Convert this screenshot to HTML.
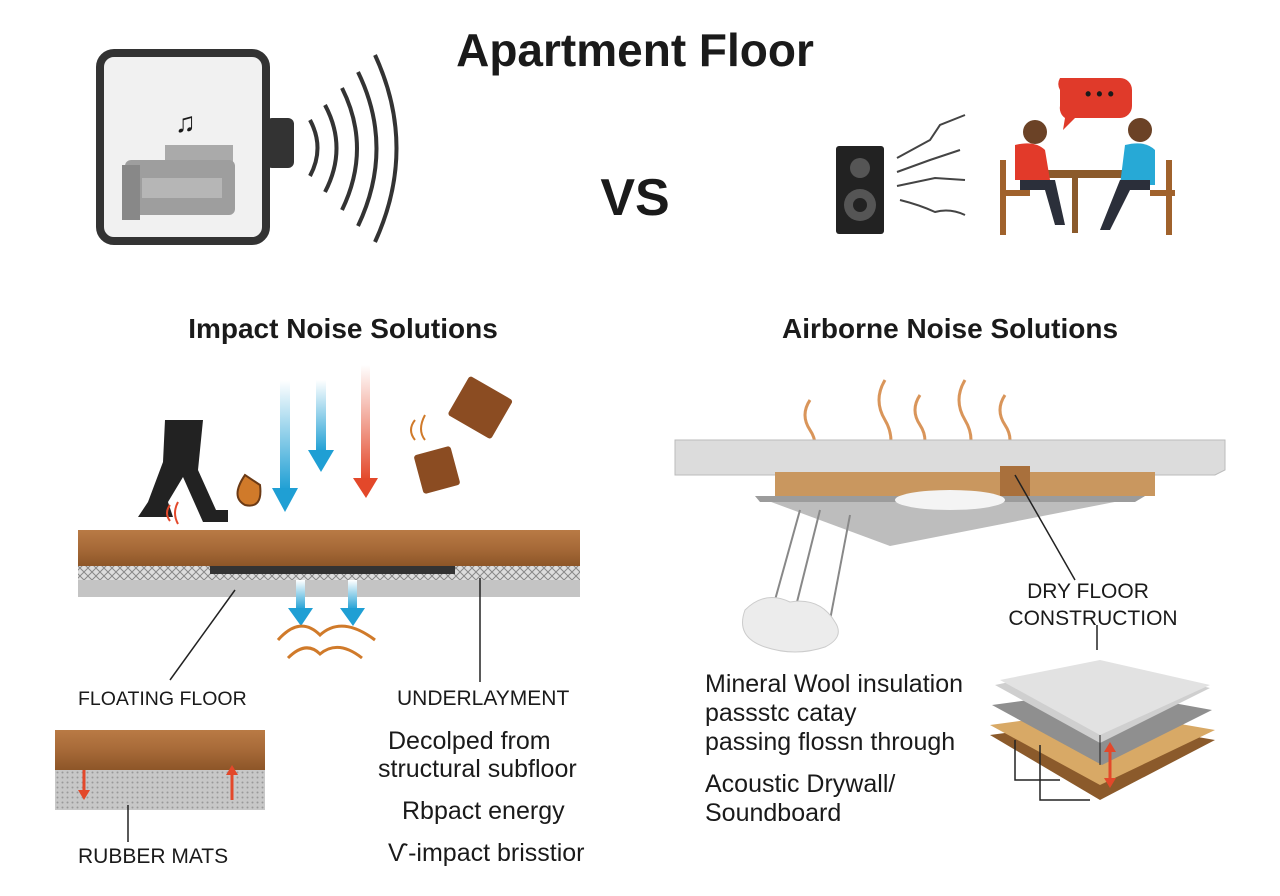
<!DOCTYPE html>
<html><head><meta charset="utf-8"><style>
html,body{margin:0;padding:0;background:#fff;width:1280px;height:896px;overflow:hidden}
svg{display:block}
text{font-family:"Liberation Sans",sans-serif;fill:#1a1a1a}
</style></head><body>
<svg width="1280" height="896" viewBox="0 0 1280 896" xmlns="http://www.w3.org/2000/svg">
<defs>
<pattern id="hatch" width="8" height="8" patternUnits="userSpaceOnUse"><rect width="8" height="8" fill="#ddd"/><path d="M0 8L8 0M0 0L8 8" stroke="#888" stroke-width="1"/></pattern>
<pattern id="dots" width="5" height="5" patternUnits="userSpaceOnUse"><rect width="5" height="5" fill="#c8c8c8"/><circle cx="2.5" cy="2.5" r="1" fill="#999"/></pattern>
<linearGradient id="wood" x1="0" y1="0" x2="0" y2="1"><stop offset="0" stop-color="#b97a45"/><stop offset="0.5" stop-color="#a76a38"/><stop offset="1" stop-color="#8d5628"/></linearGradient>
<linearGradient id="blueA" x1="0" y1="0" x2="0" y2="1"><stop offset="0" stop-color="#fff"/><stop offset="1" stop-color="#1f9fd4"/></linearGradient>
<linearGradient id="redA" x1="0" y1="0" x2="0" y2="1"><stop offset="0" stop-color="#fff"/><stop offset="1" stop-color="#e3482a"/></linearGradient>
</defs>

<text x="635" y="66" font-size="46" font-weight="bold" text-anchor="middle">Apartment Floor</text>

<!-- device -->
<rect x="100" y="53" width="166" height="188" rx="14" fill="#f1f1f1" stroke="#333" stroke-width="8"/>
<rect x="266" y="118" width="28" height="50" rx="6" fill="#333"/>
<rect x="165" y="145" width="68" height="45" fill="#aaa"/>
<rect x="125" y="160" width="110" height="55" rx="6" fill="#9e9e9e"/>
<rect x="142" y="178" width="80" height="20" fill="#b6b6b6"/>
<rect x="122" y="165" width="18" height="55" fill="#888"/>
<text x="175" y="132" font-size="28">♫</text>
<g fill="none" stroke="#333" stroke-width="4">
<path d="M310 120 Q325 148 310 176"/><path d="M325 105 Q348 148 325 192"/><path d="M342 88 Q372 148 342 210"/><path d="M358 72 Q395 148 358 226"/><path d="M375 55 Q418 148 375 242"/>
</g>

<text x="635" y="215" font-size="52" font-weight="bold" text-anchor="middle" fill="#222">VS</text>

<!-- speaker -->
<rect x="836" y="146" width="48" height="88" rx="3" fill="#222"/>
<circle cx="860" cy="168" r="10" fill="#555"/><circle cx="860" cy="205" r="16" fill="#555"/><circle cx="860" cy="205" r="7" fill="#222"/>
<g fill="none" stroke="#444" stroke-width="2">
<path d="M897 158 L930 140 L940 125 L965 115"/><path d="M897 172 L930 160 L960 150"/><path d="M897 186 L935 178 L965 180"/><path d="M900 200 Q920 205 935 212 Q950 208 965 215"/>
</g>
<!-- people -->
<path d="M1060 78 h60 a12 12 0 0 1 12 12 v16 a12 12 0 0 1 -12 12 h-45 l-12 12 l2 -12 a12 12 0 0 1 -5 -12 v-16 a12 12 0 0 1 0 -12z" fill="#e03a2a"/>
<text x="1085" y="100" font-size="18" fill="#fff" font-weight="bold">• • •</text>
<rect x="1040" y="170" width="85" height="8" fill="#8b5a2b"/>
<rect x="1072" y="178" width="6" height="55" fill="#8b5a2b"/>
<circle cx="1035" cy="132" r="12" fill="#6b4226"/>
<path d="M1015 145 q20 -5 30 5 l5 30 h-35z" fill="#e23a2a"/>
<path d="M1020 180 h35 l10 45 h-10 l-10 -35 h-25z" fill="#2b2f3a"/>
<rect x="1000" y="190" width="30" height="6" fill="#a0622c"/><rect x="1000" y="160" width="6" height="75" fill="#a0622c"/>
<circle cx="1140" cy="130" r="12" fill="#6b4226"/>
<path d="M1125 145 q20 -5 30 5 l0 35 h-35z" fill="#27a9d6"/>
<path d="M1125 180 h25 v10 h-20 l-20 40 h-10 l20 -50z" fill="#2b2f3a"/>
<rect x="1150" y="190" width="25" height="6" fill="#a0622c"/><rect x="1166" y="160" width="6" height="75" fill="#a0622c"/>

<text x="343" y="338" font-size="28" font-weight="bold" text-anchor="middle">Impact Noise Solutions</text>
<text x="950" y="338" font-size="28" font-weight="bold" text-anchor="middle">Airborne Noise Solutions</text>

<!-- left illustration -->
<path d="M165 420 h38 l-5 50 l18 40 h12 v12 h-25 l-20 -45 l-15 25 l5 15 h-35 l10 -15 l15 -40z" fill="#222"/>
<path d="M245 475 q-15 22 0 30 q18 4 15 -20z" fill="#d07a2a" stroke="#6b3a15" stroke-width="2"/>
<rect x="280" y="380" width="10" height="110" fill="url(#blueA)"/><path d="M272 488 h26 l-13 24z" fill="#1f9fd4"/>
<rect x="316" y="380" width="10" height="72" fill="url(#blueA)"/><path d="M308 450 h26 l-13 22z" fill="#1f9fd4"/>
<rect x="361" y="365" width="9" height="115" fill="url(#redA)"/><path d="M353 478 h25 l-12 20z" fill="#e3482a"/>
<rect x="455" y="385" width="50" height="45" rx="3" fill="#8b4c22" transform="rotate(30 480 408)"/>
<rect x="418" y="450" width="38" height="40" rx="3" fill="#8b4c22" transform="rotate(-15 437 470)"/>
<path d="M415 420 q-8 10 0 20 M425 415 q-8 15 0 25" stroke="#d07a2a" stroke-width="2" fill="none"/>
<path d="M170 505 q-6 8 0 16 M178 502 q-6 11 0 22" stroke="#e3482a" stroke-width="2" fill="none"/>

<rect x="78" y="530" width="502" height="36" fill="url(#wood)"/>
<rect x="78" y="566" width="502" height="14" fill="url(#hatch)"/>
<rect x="210" y="566" width="245" height="8" fill="#333"/>
<rect x="78" y="580" width="502" height="17" fill="#c4c4c4"/>
<rect x="296" y="580" width="9" height="30" fill="url(#blueA)"/><path d="M288 608 h25 l-12 18z" fill="#1f9fd4"/>
<rect x="348" y="580" width="9" height="30" fill="url(#blueA)"/><path d="M340 608 h25 l-12 18z" fill="#1f9fd4"/>
<g fill="none" stroke="#d07a2a" stroke-width="3"><path d="M278 640 q22 -25 42 -5 q22 -20 55 5"/><path d="M288 658 q18 -18 32 -4 q18 -15 42 4"/></g>
<path d="M235 590 L170 680" stroke="#222" stroke-width="1.5"/>
<path d="M480 578 V682" stroke="#222" stroke-width="1.5"/>

<text x="78" y="705" font-size="19.5">FLOATING FLOOR</text>
<text x="397" y="705" font-size="21">UNDERLAYMENT</text>
<text x="388" y="749" font-size="25">Decolped from</text>
<text x="378" y="777" font-size="25">structural subfloor</text>
<text x="402" y="819" font-size="25">Rbpact energy</text>
<text x="388" y="861" font-size="25">Ѵ-impact brisstior</text>
<text x="78" y="863" font-size="21">RUBBER MATS</text>

<rect x="55" y="730" width="210" height="40" fill="url(#wood)"/>
<rect x="55" y="770" width="210" height="40" fill="url(#dots)"/>
<path d="M84 770 v25" stroke="#e3482a" stroke-width="3"/><path d="M78 790 h12 l-6 10z" fill="#e3482a"/>
<path d="M232 800 v-28" stroke="#e3482a" stroke-width="3"/><path d="M226 775 h12 l-6 -10z" fill="#e3482a"/>
<path d="M128 805 V842" stroke="#222" stroke-width="1.5"/>

<!-- right illustration -->
<g fill="none" stroke="#d9955a" stroke-width="3">
<path d="M810 400 q-10 15 0 30 q10 15 0 30"/><path d="M885 380 q-12 20 0 40 q12 20 0 45 q-8 15 0 25"/><path d="M920 395 q-10 15 0 30 q10 15 0 35"/><path d="M965 380 q-12 20 0 40 q12 20 0 40 q-8 15 0 25"/><path d="M1005 395 q-10 15 0 30 q10 15 0 30"/>
</g>
<path d="M675 440 h550 v30 l-10 5 h-540z" fill="#dcdcdc" stroke="#bbb"/>
<rect x="775" y="472" width="380" height="24" fill="#c9975f"/>
<rect x="1000" y="466" width="30" height="30" fill="#a9703c"/>
<path d="M755 496 h390 l-255 50z" fill="#bdbdbd"/>
<path d="M755 496 h390 l-10 6 h-375z" fill="#9c9c9c"/>
<ellipse cx="950" cy="500" rx="55" ry="10" fill="#f4f4f4"/>
<g stroke="#888" stroke-width="2"><path d="M800 510 L775 600"/><path d="M820 510 L795 610"/><path d="M850 515 L830 620"/></g>
<path d="M745 610 q20 -20 45 -8 q30 -5 45 20 q10 15 -10 25 q-30 10 -60 0 q-30 -10 -20 -37z" fill="#ececec" stroke="#ccc"/>
<path d="M1015 475 L1075 580" stroke="#222" stroke-width="1.5"/>

<text x="1088" y="598" font-size="21" text-anchor="middle">DRY FLOOR</text>
<text x="1093" y="625" font-size="21" text-anchor="middle">CONSTRUCTION</text>
<text x="705" y="692" font-size="25">Mineral Wool insulation</text>
<text x="705" y="721" font-size="25">passstc catay</text>
<text x="705" y="750" font-size="25">passing flossn through</text>
<text x="705" y="792" font-size="25">Acoustic Drywall/</text>
<text x="705" y="821" font-size="25">Soundboard</text>

<path d="M990 735 l110 -15 l115 20 l-115 60z" fill="#8b5a2b"/>
<path d="M990 725 l110 -15 l115 20 l-115 55z" fill="#d8a966"/>
<path d="M992 705 l110 -15 l110 20 l-110 55z" fill="#8f8f8f"/>
<path d="M995 685 l105 -22 l110 25 l-110 55z" fill="#cfcfcf"/>
<path d="M1000 680 l100 -20 l110 25 l-110 50z" fill="#e2e2e2"/>
<path d="M1100 735 v30 M1100 765 v-3" stroke="#222"/>
<path d="M1097 625 V650" stroke="#222" stroke-width="1.5"/>
<path d="M1110 750 v30" stroke="#e3482a" stroke-width="3"/><path d="M1104 752 h12 l-6 -10z M1104 778 h12 l-6 10z" fill="#e3482a"/>
<path d="M1015 740 v40 h45 M1040 745 v55 h50" stroke="#222" stroke-width="1.5" fill="none"/>
</svg>
</body></html>
